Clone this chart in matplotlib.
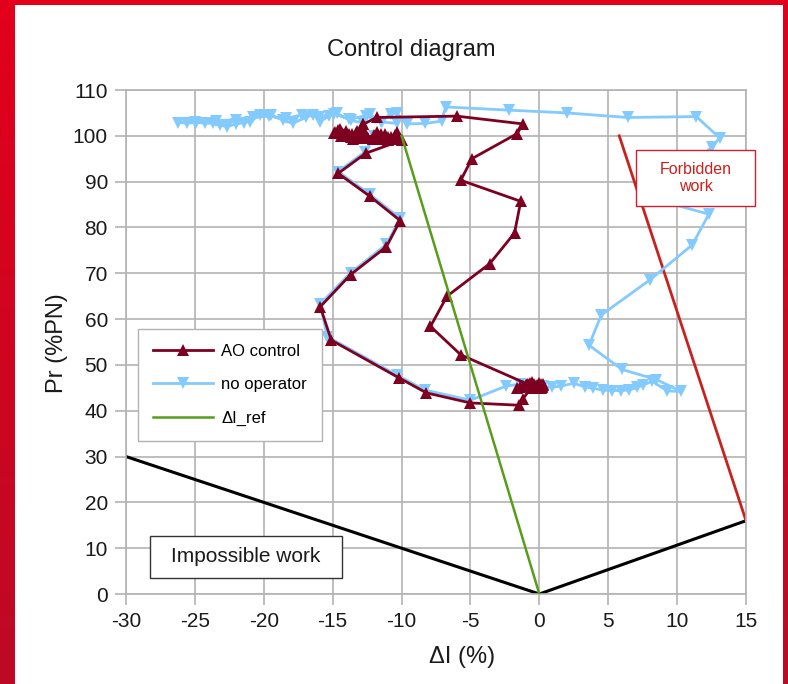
import numpy as np
import matplotlib
matplotlib.use("Agg")
import matplotlib.pyplot as plt
from matplotlib.patches import Rectangle
from matplotlib.colors import LinearSegmentedColormap

plt.rcParams['font.family'] = ['Liberation Sans', 'DejaVu Sans']
plt.rcParams['axes.unicode_minus'] = False

# AO control (delta I %, power %PN)
ao_dI = [-12.8, -11.8, -6.0, -1.2, -1.6, -4.9, -5.7, -1.35, -1.8, -3.6, -6.7, -7.9, -5.7,
         -0.7, -0.4, -1.6, -1.2, -0.8, -0.5, -0.3, 0.0, 0.2, -0.2, 0.3, -0.6, 0.1, -0.1, 0.2,
         -0.9, -0.4, 0.0, 0.3, -0.7, -0.2, 0.1, -1.4, -1.0, -0.5,
         -1.2, -1.45, -5.0, -8.2, -10.2, -15.1, -15.9, -13.7, -11.1, -10.1, -12.3, -14.6, -12.6,
         -10.0, -10.3, -10.6, -11.0, -11.4, -11.8, -12.1, -12.5, -12.8, -13.1, -13.5, -13.9,
         -14.3, -14.8, -14.5, -14.0, -13.6, -13.2, -12.8, -12.4, -12.0, -11.6, -11.2, -10.8,
         -10.4, -10.1, -10.5, -11.0, -11.5, -12.0, -12.6, -13.2, -13.8, -14.4, -14.9, -14.6,
         -14.1, -13.7, -13.3, -12.8]
ao_P = [102.5, 104.0, 104.3, 102.6, 100.5, 95.0, 90.3, 85.7, 78.8, 72.1, 65.0, 58.4, 52.2,
        45.6, 45.9, 44.9, 45.3, 45.8, 46.2, 45.5, 46.0, 45.2, 44.9, 45.6, 45.0, 45.8, 45.3, 45.5,
        45.9, 45.2, 45.4, 45.9, 46.1, 45.7, 44.9, 45.1, 45.7, 45.3,
        42.6, 41.2, 41.7, 43.9, 47.2, 55.4, 62.7, 69.7, 75.8, 81.5, 86.8, 91.8, 96.2,
        99.0, 100.8, 99.4, 99.1, 99.5, 100.9, 99.4, 99.8, 101.4, 99.6, 99.2, 100.1,
        100.6, 100.9, 101.5, 101.0, 100.4, 101.1, 100.0, 99.5, 100.2, 99.3, 100.5, 99.7,
        99.2, 99.6, 100.1, 99.8, 100.4, 99.6, 100.0, 99.5, 100.3, 99.9, 100.6, 101.2,
        100.2, 99.8, 100.7, 102.5]

# no operator
no_dI = [-12.0, -12.65, -14.6, -12.3, -10.1, -11.1, -13.7, -15.9, -15.4, -10.35, -8.3, -5.0,
         -2.4, -1.4, -0.8, -0.3, 0.3, 0.9, 1.6, 2.5, 3.3, 3.9, 4.6, 5.3, 5.9, 6.5, 7.1, 7.5,
         8.2, 9.3, 10.3, 8.5, 6.0, 3.6, 4.5, 8.0, 11.1, 12.3, 8.8, 12.5, 13.1, 11.4, 6.4, 2.0,
         -2.2, -6.8, -7.1, -8.3, -9.6, -10.35, -10.8, -11.5, -12.3, -12.8, -13.7, -14.7, -15.3,
         -15.9, -16.4, -16.9, -17.9, -18.6, -19.5, -20.3, -21.0, -21.4, -22.0, -22.7, -23.2,
         -23.7, -24.3, -24.9, -25.6, -26.2, -25.0, -23.5, -22.0, -20.8, -19.6, -18.4, -17.2,
         -16.0, -14.9, -13.8, -12.6, -11.4, -10.3]
no_P = [100.0, 96.5, 92.2, 87.2, 82.0, 76.3, 70.1, 63.3, 56.2, 47.8, 44.5, 42.3,
        45.4, 45.8, 45.6, 45.4, 45.3, 45.1, 45.4, 46.0, 45.2, 44.9, 44.5, 44.4, 44.4, 44.5, 45.1, 45.6,
        46.4, 44.3, 44.2, 46.8, 49.0, 54.3, 60.9, 68.5, 76.2, 82.9, 85.8, 97.6, 99.5, 104.2, 104.0, 105.0,
        105.6, 106.3, 103.2, 102.7, 102.6, 104.9, 104.8, 103.0, 104.7, 102.8, 103.4, 104.9, 104.3,
        103.1, 104.6, 104.1, 102.7, 103.4, 104.5, 104.5, 103.1, 102.9, 102.6, 102.0, 102.4,
        102.7, 102.8, 102.9, 102.8, 102.9, 103.1, 103.3, 103.5, 104.0, 104.3, 103.8, 104.6,
        104.2, 104.8, 103.6, 104.4, 103.0, 102.7]

# reference and limit lines
ref_dI = [0, -10]
ref_P = [0, 100]
low_dI = [-30, 0, 15]
low_P = [30, 0, 16]
forb_dI = [5.8, 15]
forb_P = [100, 16]

xticks = list(range(-30, 16, 5))
yticks = list(range(0, 111, 10))

W, H = 788, 684
fig = plt.figure(figsize=(W / 100, H / 100), dpi=100)

# red frame
cmap = LinearSegmentedColormap.from_list('frame', ['#e3001b', '#bd0a25'])
grad = np.linspace(0, 1, 256).reshape(-1, 1)
for x0, w in [(0, 14), (783, 5)]:
    fa = fig.add_axes([x0 / W, 0, w / W, 1])
    fa.imshow(grad, aspect='auto', cmap=cmap, extent=[0, 1, 0, 1], origin='upper')
    fa.axis('off')
fig.patches.append(Rectangle((0, 1 - 5 / H), 1, 5 / H, transform=fig.transFigure,
                             facecolor='#e3001b', edgecolor='none'))

ax = fig.add_axes([126 / W, 1 - 594 / H, 620 / W, 504 / H])
grid_c = '#b3b3b3'
ax.set_xlim(-30, 15)
ax.set_ylim(0, 110)
ax.set_xticks(xticks)
ax.set_yticks(yticks)
ax.grid(True, color=grid_c, linewidth=1.2)
ax.set_axisbelow(True)
for s in ax.spines.values():
    s.set_color(grid_c)
    s.set_linewidth(1.2)
ax.tick_params(length=8, width=1.2, color=grid_c, labelsize=15, labelcolor='#1a1a1a', pad=5)

ax.plot(low_dI, low_P, color='black', lw=2.2, zorder=2)
ax.plot(forb_dI, forb_P, color='#c9211e', lw=2, zorder=2)
ax.plot(no_dI, no_P, color='#83caff', lw=2, marker='v', ms=9, mew=0,
        label='no operator', zorder=3)
ax.plot(ao_dI, ao_P, color='#7e0021', lw=2, marker='^', ms=9, mew=0,
        label='AO control', zorder=4)
ax.plot(ref_dI, ref_P, color='#579d1c', lw=1.8, label='ΔI_ref', zorder=5)

h, l = ax.get_legend_handles_labels()
order = [1, 0, 2]
leg = ax.legend([h[i] for i in order], [l[i] for i in order], loc='upper left',
                bbox_to_anchor=(0.019, 0.526), borderaxespad=0, fontsize=12,
                fancybox=False, framealpha=1, edgecolor=grid_c, handlelength=3.6,
                handletextpad=0.5, labelspacing=1.1, borderpad=0.9)
leg.get_frame().set_linewidth(1)

# annotation boxes
ax.add_patch(Rectangle((-28.25, 3.5), 13.93, 9.16, facecolor='white', edgecolor='#333333',
                       lw=1, zorder=6))
ax.text(-21.3, 8.1, 'Impossible work', fontsize=15, color='#1a1a1a', ha='center',
        va='center', zorder=7)
ax.add_patch(Rectangle((7.02, 84.65), 8.63, 12.25, facecolor='white', edgecolor='#d0202e',
                       lw=1, zorder=6, clip_on=False))
ax.text(11.34, 90.8, 'Forbidden\nwork', fontsize=11.5, color='#c9211e', ha='center',
        va='center', linespacing=1.1, zorder=7, clip_on=False)

fig.text(411 / W, 1 - 50 / H, 'Control diagram', fontsize=17, ha='center', va='center',
         color='#1a1a1a')
fig.text(57 / W, 1 - 343 / H, 'Pr (%PN)', fontsize=17, rotation=90, ha='center',
         va='center', color='#1a1a1a')
fig.text(462 / W, 1 - 657 / H, 'ΔI (%)', fontsize=17, ha='center', va='center',
         color='#1a1a1a')

fig.savefig('out.png', dpi=100)
